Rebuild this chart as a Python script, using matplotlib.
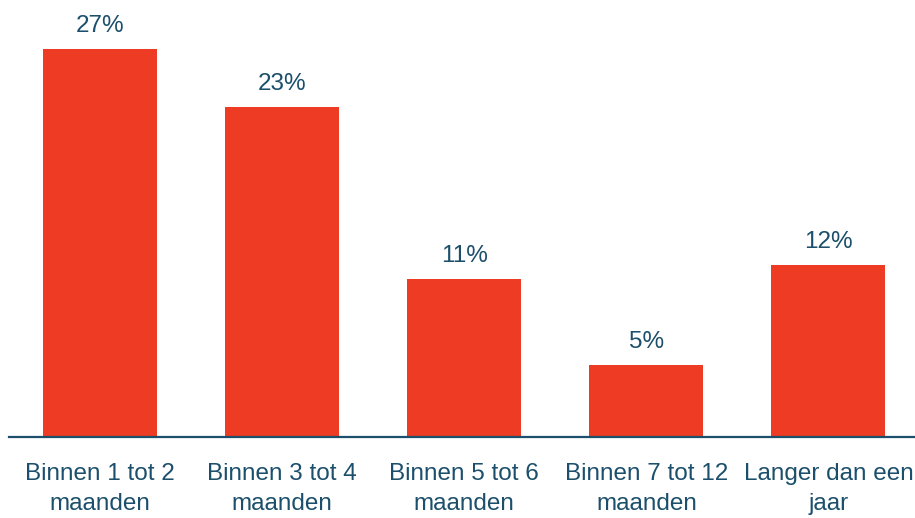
import matplotlib
matplotlib.use("Agg")
import matplotlib.pyplot as plt

categories = ["Binnen 1 tot 2\nmaanden", "Binnen 3 tot 4\nmaanden", "Binnen 5 tot 6\nmaanden",
              "Binnen 7 tot 12\nmaanden", "Langer dan een\njaar"]
values = [27, 23, 11, 5, 12]
labels = ["27%", "23%", "11%", "5%", "12%"]

bar_color = "#EE3B23"
text_color = "#1B4F6B"

plt.rcParams['font.family'] = ['Liberation Sans', 'DejaVu Sans']

fig = plt.figure(figsize=(9.15, 5.18), dpi=100)
ax = fig.add_axes([9/915, 81/518, 1 - 9/915, 431/518])
x = list(range(len(categories)))
bars = ax.bar(x, values, width=0.626, color=bar_color)
ax.set_xlim(-0.5, 4.475)
ax.set_ylim(0, 30)

for xi, v, lab in zip(x, values, labels):
    ax.annotate(lab, (xi, v), xytext=(0, 8.5), textcoords="offset points",
                ha="center", va="bottom", fontsize=17.5, color=text_color)

ax.set_xticks(x)
ax.set_xticklabels(categories, fontsize=17.5, color=text_color, linespacing=1.45)
ax.tick_params(axis="x", length=0, pad=19)
ax.set_yticks([])
for s in ["top", "right", "left"]:
    ax.spines[s].set_visible(False)
ax.spines["bottom"].set_color(text_color)
ax.spines["bottom"].set_linewidth(1.6)

fig.savefig("out.png", dpi=100)
